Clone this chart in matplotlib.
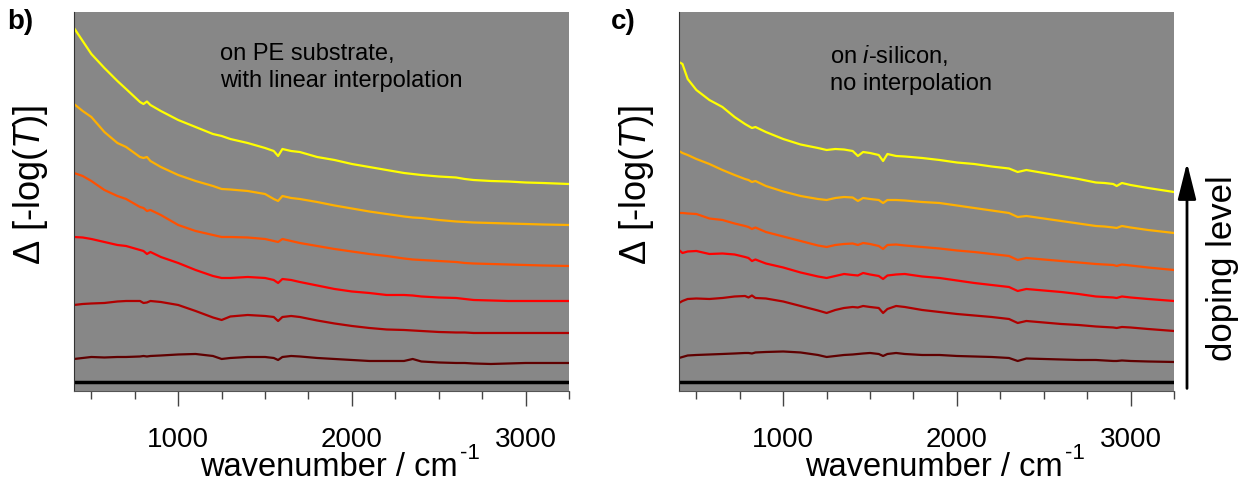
import matplotlib
matplotlib.use('Agg')
import matplotlib.pyplot as plt
from matplotlib.ticker import MultipleLocator
from matplotlib.patches import FancyArrowPatch
import numpy as np

plt.rcParams['font.family'] = ['Liberation Sans', 'DejaVu Sans']
plt.rcParams['mathtext.fontset'] = 'custom'
plt.rcParams['mathtext.rm'] = 'Liberation Sans'
plt.rcParams['mathtext.it'] = 'Liberation Sans:italic'

# ---- data (arbitrary offset units, zero = undoped reference) ----
# panel b) on PE substrate
wn_b = [400, 450, 500, 575, 650, 700, 780, 800, 820, 840, 900, 1000, 1100, 1200,
        1250, 1300, 1400, 1500, 1550, 1575, 1600, 1650, 1700, 1800, 1900, 2000,
        2100, 2200, 2300, 2350, 2400, 2500, 2600, 2650, 2700, 2800, 2900, 3000,
        3100, 3250]
b_yellow = [354, 341, 328, 314, 301, 293, 280, 278, 280.5, 277, 271, 262, 255, 248,
            246, 243, 239, 234, 231, 226, 233, 231, 230, 225, 222, 218,
            215, 212, 209, 208, 207, 205.5, 204.5, 203, 202, 201, 200.5, 199.5,
            199, 198]
b_orange = [278, 271, 265, 250, 239, 235, 225, 224, 225, 221, 215, 207, 201, 196,
            193, 192.5, 191, 188, 183, 181, 186, 184, 183, 180, 176.5, 173.5,
            170.5, 168, 165.5, 164.5, 164, 162, 160.5, 160, 159.5, 159, 158.5, 158,
            157.5, 157]
b_redorange = [209, 206, 201, 192, 186, 183, 175, 174, 171, 172, 167, 157, 151, 147,
               145, 145, 144.5, 143, 141, 140, 143, 141, 139, 136, 133, 130.5,
               128, 126, 123.5, 122.5, 122, 121, 120, 119, 118.5, 118, 117.5, 117,
               116.5, 116]
b_red = [145, 144.5, 143, 140, 137, 136, 132, 131, 128, 130, 125, 119, 112, 106,
         104, 104, 105, 104, 102, 99, 103, 102, 100, 96.5, 93, 90.5,
         89, 87, 87, 86.5, 85.5, 84.5, 84, 83, 82, 81.5, 81, 81,
         81, 81]
b_darkred = [77, 78, 78.5, 79, 80.5, 81, 81, 79, 79.5, 81, 80, 77, 71, 64.5,
             62, 65.5, 67, 66, 65, 61, 65, 66, 65, 61.5, 58.5, 56,
             54, 52.5, 52, 51.5, 51, 50, 49.5, 49.5, 49, 49, 49, 49,
             49, 49]
b_maroon = [23, 24, 25, 24.5, 25, 25, 25.5, 26, 25.5, 26, 26.5, 27.5, 28, 26,
            23, 24, 25, 25, 24, 22, 25, 26, 25.5, 24, 23, 22,
            21, 21, 21, 23, 20.5, 19.5, 19, 19, 18.5, 18, 18.5, 19,
            19, 19]

# panel c) on i-silicon
wn_c = [400, 420, 450, 500, 575, 650, 720, 780, 800, 820, 840, 900, 1000, 1100,
        1200, 1250, 1300, 1350, 1400, 1430, 1460, 1500, 1550, 1575, 1600, 1650,
        1700, 1800, 1900, 2000, 2100, 2200, 2300, 2350, 2400, 2500, 2600, 2700,
        2800, 2850, 2900, 2920, 2950, 3000, 3100, 3250]
c_yellow = [320, 318, 303, 292, 282, 275, 265, 258, 256, 254, 255, 250, 243, 237.5,
            234, 232, 233, 232.5, 231, 226, 230, 229, 227, 221, 228, 226,
            225.5, 224, 222, 219.5, 218, 215.5, 213.5, 210, 212, 209, 206, 203,
            199.5, 199, 198, 196, 199, 197, 194, 190]
c_orange = [231, 229, 227, 223, 218, 212, 207, 203, 202, 200, 201, 196, 190.5, 186,
            183, 182, 184, 185, 184.5, 181, 184, 183, 182, 179, 182, 182,
            181.5, 180, 179, 176.5, 174, 171.5, 169, 165, 166, 163.5, 161, 158.5,
            156, 155.5, 154.5, 154, 156, 154.5, 152, 149]
c_redorange = [169, 169, 168.5, 168, 163.5, 162, 158.5, 156, 155, 153, 154.5, 150, 145.5, 141,
               136.5, 135, 137, 138, 138.5, 137, 139, 138, 136, 133, 137, 137.5,
               136.5, 135, 133.5, 131.5, 130, 128, 126, 122, 124, 122.5, 121, 119.5,
               118, 117.5, 117, 116, 117.5, 116.5, 114.5, 112]
c_red = [132, 129, 130.5, 131, 128, 128.5, 127.5, 125, 124, 121, 122.5, 118.5, 114.5, 109.5,
         105.5, 104, 106, 108, 107, 106.5, 109, 107.5, 106, 103, 106.5, 107.5,
         108, 105.5, 104, 101.5, 99, 97, 95, 91, 93, 91.5, 90, 88,
         85.5, 85, 84.5, 84, 85.5, 84.5, 83, 81]
c_darkred = [79, 81, 83, 83.5, 83, 84, 85.5, 86, 84.5, 86.5, 84, 83.5, 80.5, 76,
             71.5, 69, 72, 74, 75, 74.5, 76, 75, 74, 69, 73, 76,
             75, 72, 70, 68, 66.5, 65, 63, 59, 61, 59.5, 58, 57,
             55.5, 55, 54.5, 54, 55, 54.5, 53, 51]
c_maroon = [24, 25, 26.5, 27, 27.5, 28, 28.5, 29, 29, 28.5, 29.5, 30, 30.5, 29.5,
            27, 25, 26, 27, 27.5, 28, 28.5, 29, 28, 26, 28, 29,
            28, 27, 27, 26, 25.5, 25, 24, 21, 23.5, 23, 22.5, 22,
            22, 21.5, 21, 21, 21.5, 21, 20.5, 20]

colors = ['#600000', '#b00000', '#ff0000', '#ff5000', '#ffb000', '#ffff00']
bg = '#878787'

fig = plt.figure(figsize=(12.5, 4.89), dpi=100)
ax_b = fig.add_axes([0.0592, 0.1984, 0.396, 0.775])
ax_c = fig.add_axes([0.5432, 0.1984, 0.396, 0.775])

panels = [
    (ax_b, wn_b, [b_maroon, b_darkred, b_red, b_redorange, b_orange, b_yellow]),
    (ax_c, wn_c, [c_maroon, c_darkred, c_red, c_redorange, c_orange, c_yellow]),
]

for ax, wn, curves in panels:
    ax.set_facecolor(bg)
    ax.axhline(0, color='k', lw=2.5)
    for y, col in zip(curves, colors):
        ax.plot(wn, y, color=col, lw=1.6)
    ax.set_xlim(400, 3250)
    ax.set_ylim(-9, 370)
    ax.set_yticks([])
    ax.xaxis.set_major_locator(MultipleLocator(1000))
    ax.xaxis.set_minor_locator(MultipleLocator(250))
    ax.tick_params(axis='x', which='major', direction='out', length=11, width=1,
                   color='#444444', labelsize=20, pad=14)
    ax.tick_params(axis='x', which='minor', direction='out', length=6, width=1,
                   color='#444444')
    for s in ['top', 'right']:
        ax.spines[s].set_visible(False)
    ax.spines['left'].set_color('#333333')
    ax.spines['bottom'].set_color('#555555')
    ax.spines['bottom'].set_linewidth(0.8)
    ax.set_xlabel('wavenumber / cm', fontsize=23.5)
    ax.xaxis.set_label_coords(0.515, -0.158)

# y labels, rotated
for xc in [30, 636]:
    fig.text(xc / 1250, 1 - 185 / 489, 'Δ [-log($\\it{T}$)]', rotation=90,
             fontsize=26, ha='center', va='center')

ax_b.text(0.295, 0.92, 'on PE substrate,\nwith linear interpolation',
          transform=ax_b.transAxes, fontsize=17, va='top', ha='left', linespacing=1.3)
ax_c.text(0.305, 0.92, 'on $\\it{i}$-silicon,\nno interpolation',
          transform=ax_c.transAxes, fontsize=17, va='top', ha='left', linespacing=1.3)

fig.text(0.006, 0.955, 'b)', fontsize=20, fontweight='bold', va='center')
fig.text(0.489, 0.955, 'c)', fontsize=20, fontweight='bold', va='center')

# doping level arrow
fig.add_artist(FancyArrowPatch(
    (0.9496, 0.198), (0.9496, 0.671), transform=fig.transFigure,
    arrowstyle='-|>,head_length=1.6,head_width=0.4', mutation_scale=14,
    color='k', lw=2))
fig.text(0.978, 0.452, 'doping level', rotation=90, fontsize=25,
         ha='center', va='center')

# superscript -1 after the x labels
fig.canvas.draw()
W, H = fig.bbox.width, fig.bbox.height
for ax in [ax_b, ax_c]:
    bb = ax.xaxis.label.get_window_extent()
    fig.text((bb.x1 + 2) / W, (bb.y1 + 9) / H, '-1', fontsize=16,
             ha='left', va='top')

fig.savefig('out.png', dpi=100)
